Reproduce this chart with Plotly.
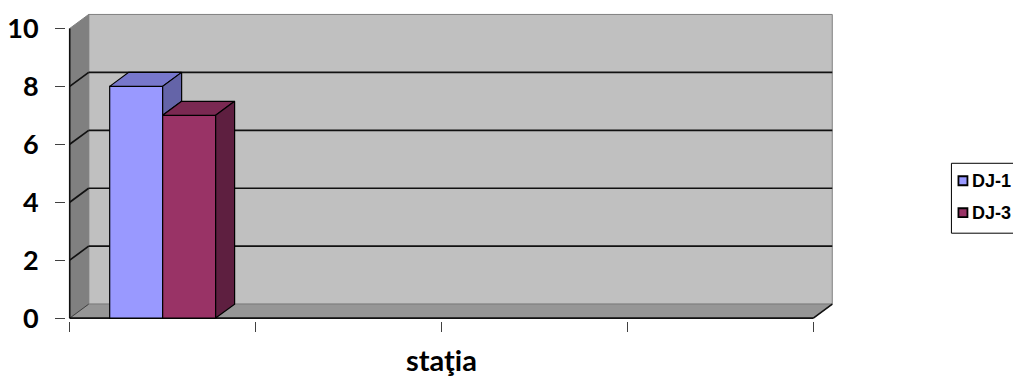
import plotly.graph_objects as go

# ---- data -------------------------------------------------------------
series_names = ["DJ-1", "DJ-3"]
slot_centers = [0.5, 1.5, 2.5, 3.5]          # four station slots on the x axis
dj1_values = [8, None, None, None]
dj3_values = [7, None, None, None]
y_tick_values = [0, 2, 4, 6, 8, 10]
y_tick_labels = ["0", "2", "4", "6", "8", "10"]
x_title = "staţia"

# ---- style ------------------------------------------------------------
FRONT = ["#9999FF", "#993366"]
TOP = ["#7777CC", "#7A2952"]
SIDE = ["#6464A8", "#5E1F40"]
BAR_W = 0.285                    # width of one column (slot units)
DX, DY = 0.102, 0.483            # depth projection offset (x units, y units)
Y_MAX = 10
N_SLOTS = 4

W, H = 1013, 377
PX_X, PX_Y = 185.75, 29.0        # pixels per unit on each axis
X0_PX, Y0_PX = 70, 318           # pixel position of the axes origin
x_range = [-0.02, N_SLOTS + DX + 0.02]
y_range = [-0.1, Y_MAX + DY + 0.05]
m_l = X0_PX + x_range[0] * PX_X
m_r = W - (X0_PX + x_range[1] * PX_X)
m_b = (H - Y0_PX) + y_range[0] * PX_Y
m_t = Y0_PX - y_range[1] * PX_Y
plot_w = W - m_l - m_r
plot_h = H - m_t - m_b


def px_to_paper_x(px):
    return (px - m_l) / plot_w


def px_to_paper_y(py):
    return (H - m_b - py) / plot_h


def poly(points):
    xs = [p[0] for p in points] + [points[0][0]]
    ys = [p[1] for p in points] + [points[0][1]]
    return xs, ys


fig = go.Figure()

# ---- walls, floor and gridlines (drawn beneath the columns) ----------
shapes = []


def path_shape(points, fill, line_color, width=1):
    d = "M " + " L ".join(f"{x},{y}" for x, y in points) + " Z"
    return dict(type="path", path=d, xref="x", yref="y", layer="below",
                fillcolor=fill, line=dict(color=line_color, width=width))


def seg(x0, y0, x1, y1, color, width):
    return dict(type="line", x0=x0, y0=y0, x1=x1, y1=y1, xref="x", yref="y",
                layer="below", line=dict(color=color, width=width))


shapes.append(path_shape([(DX, DY), (N_SLOTS + DX, DY), (N_SLOTS + DX, Y_MAX + DY),
                          (DX, Y_MAX + DY)], "#C0C0C0", "#808080"))
shapes.append(path_shape([(0, 0), (DX, DY), (DX, Y_MAX + DY), (0, Y_MAX)],
                         "#808080", "#808080"))
shapes.append(path_shape([(0, 0), (N_SLOTS, 0), (N_SLOTS + DX, DY), (DX, DY)],
                         "#969696", "#808080"))
for v in y_tick_values[1:-1]:
    shapes.append(seg(DX, v + DY, N_SLOTS + DX, v + DY, "#111111", 1.7))
    shapes.append(seg(0, v, DX, v + DY, "#111111", 1.7))
shapes.append(seg(0, 0, DX, DY, "#404040", 1))
shapes.append(seg(0, 0, 0, Y_MAX, "#111111", 1.6))
shapes.append(seg(0, 0, N_SLOTS, 0, "#111111", 1.6))
shapes.append(seg(N_SLOTS, 0, N_SLOTS + DX, DY, "#111111", 1.6))

# ---- columns ----------------------------------------------------------
all_values = [dj1_values, dj3_values]
offsets = [-BAR_W, 0.0]
for k, (name, vals) in enumerate(zip(series_names, all_values)):
    fig.add_trace(go.Bar(
        x=slot_centers, y=vals, name=name, width=BAR_W, offset=offsets[k],
        marker=dict(color=FRONT[k], line=dict(color="#000000", width=1.2)),
        showlegend=False, hoverinfo="skip"))

for k, (name, vals) in enumerate(zip(series_names, all_values)):
    for i, (c, v) in enumerate(zip(slot_centers, vals)):
        if v is None:
            continue
        left = c + offsets[k]
        right = left + BAR_W
        # side face: the part hidden by the next column in the group is skipped
        base = 0
        if k + 1 < len(all_values) and all_values[k + 1][i] is not None:
            base = min(v, all_values[k + 1][i])
        faces = [
            ([(left, v), (right, v), (right + DX, v + DY), (left + DX, v + DY)], TOP[k]),
            ([(right, base), (right + DX, base + DY), (right + DX, v + DY), (right, v)], SIDE[k]),
        ]
        for pts, col in faces:
            xs, ys = poly(pts)
            fig.add_trace(go.Scatter(
                x=xs, y=ys, mode="lines", fill="toself", fillcolor=col,
                line=dict(color="#000000", width=1.2), showlegend=False,
                hoverinfo="skip"))

# ---- legend box -------------------------------------------------------
shapes.append(dict(type="rect", xref="paper", yref="paper",
                   x0=px_to_paper_x(951), x1=px_to_paper_x(1030),
                   y0=px_to_paper_y(163), y1=px_to_paper_y(233),
                   line=dict(color="#000000", width=1), fillcolor="white"))
annotations = []
for k, (name, cy) in enumerate(zip(series_names, [180.5, 212.5])):
    shapes.append(dict(type="rect", xref="paper", yref="paper",
                       x0=px_to_paper_x(958), x1=px_to_paper_x(967),
                       y0=px_to_paper_y(cy + 4.5), y1=px_to_paper_y(cy - 4.5),
                       line=dict(color="#000000", width=1.8), fillcolor=FRONT[k]))
    annotations.append(dict(text=name, xref="paper", yref="paper",
                            x=px_to_paper_x(970), y=px_to_paper_y(cy),
                            xanchor="left", yanchor="middle", showarrow=False,
                            font=dict(family="Liberation Sans", size=18,
                                      color="#000000", weight="bold")))

annotations.append(dict(text=x_title, xref="x", yref="paper",
                        x=N_SLOTS / 2, y=px_to_paper_y(359),
                        xanchor="center", yanchor="middle", showarrow=False,
                        font=dict(family="Lato", size=29, color="#000000",
                                  weight="bold")))

fig.update_layout(
    width=W, height=H,
    margin=dict(l=m_l, r=m_r, t=m_t, b=m_b, autoexpand=False),
    paper_bgcolor="white", plot_bgcolor="white",
    barmode="overlay",
    shapes=shapes, annotations=annotations,
    xaxis=dict(range=x_range, tickvals=list(range(N_SLOTS + 1)),
               showticklabels=False, ticks="outside", ticklen=10,
               tickcolor="#404040", tickwidth=1, showgrid=False,
               zeroline=False, showline=False, fixedrange=True),
    yaxis=dict(range=y_range, tickvals=y_tick_values, ticktext=y_tick_labels,
               ticks="outside", ticklen=10, tickcolor="#404040", tickwidth=1,
               ticklabelstandoff=11, showgrid=False, zeroline=False,
               showline=False, fixedrange=True,
               tickfont=dict(family="Lato", size=27, color="#000000",
                             weight="bold")),
    showlegend=False,
)

fig.write_html("out.html")
